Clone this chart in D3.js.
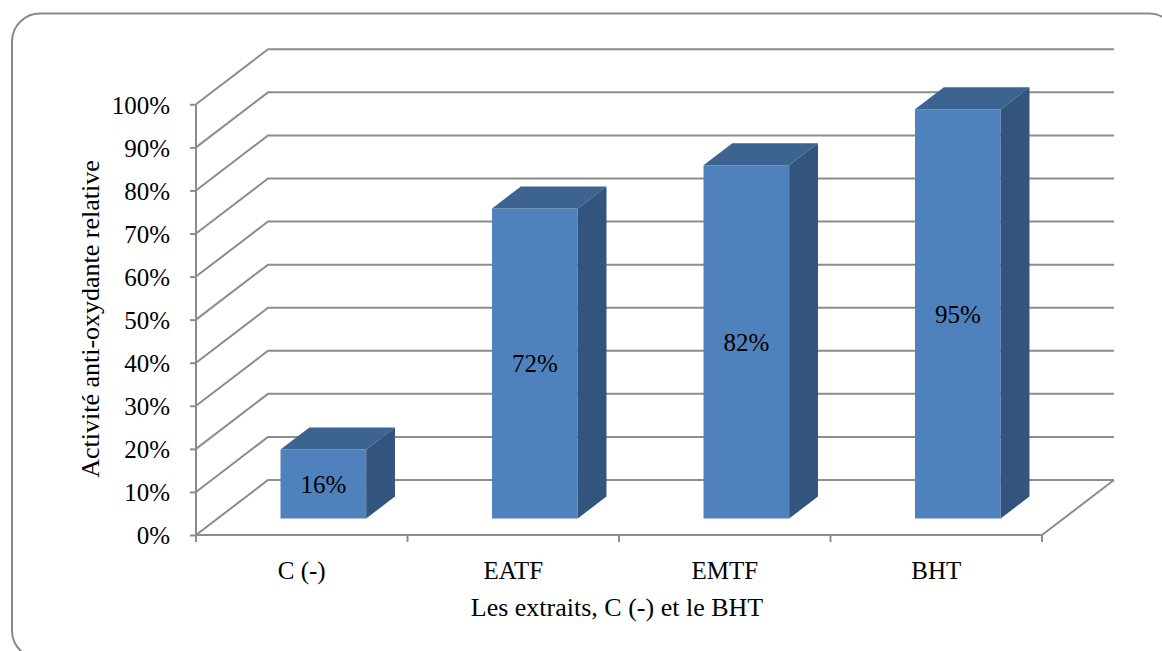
<!DOCTYPE html>
<html>
<head>
<meta charset="utf-8">
<script src="https://cdn.jsdelivr.net/npm/d3@7"></script>
<style>
  html, body { margin: 0; padding: 0; background: #ffffff; }
  svg { display: block; }
  svg text { font-family: "Liberation Serif", "Times New Roman", serif !important; fill: #000; }
</style>
</head>
<body>
<svg id="chart" width="1162" height="651"></svg>
<script>
// Data
const categories = ["C (-)", "EATF", "EMTF", "BHT"];
const values = [0.16, 0.72, 0.82, 0.95];
const tickValues = [0, 0.1, 0.2, 0.3, 0.4, 0.5, 0.6, 0.7, 0.8, 0.9, 1.0];
const yTitle = "Activité anti-oxydante relative";
const xTitle = "Les extraits, C (-) et le BHT";

const svg = d3.select("#chart");
const serif = "'Liberation Serif', 'Times New Roman', serif";

// Oblique depth of the 3D plot box
const depthX = 72, depthY = -55;
// Bars sit between these depth fractions
const barDepth0 = 0.3, barDepth1 = 0.7;

const y = d3.scaleLinear().domain([0, 1]).range([535, 104.3]);
const barPad = 0.595;
const x = d3.scaleBand().domain(categories).range([196, 1042])
  .paddingInner(barPad).paddingOuter(barPad / 2);
const xEdge = d3.scaleLinear().domain([0, categories.length]).range([196, 1042]);

const proj = (px, v, d) => [px + depthX * d, y(v) + depthY * d];
const line = d3.line();

const gridColor = "#8c8c8c";

// Outer chart frame
svg.append("rect")
  .attr("x", 12).attr("y", 13.5)
  .attr("width", 1165).attr("height", 645)
  .attr("rx", 28).attr("ry", 28)
  .attr("fill", "#fff").attr("stroke", "#8a8a8a").attr("stroke-width", 2);

const plot = svg.append("g");

// Gridlines: along the left wall, then across the back wall
plot.selectAll("path.grid").data(tickValues).join("path")
  .attr("class", "grid")
  .attr("d", v => line([proj(xEdge(0), v, 0), proj(xEdge(0), v, 1), proj(xEdge(categories.length), v, 1)]))
  .attr("fill", "none").attr("stroke", gridColor).attr("stroke-width", 2);

// Floor outline (front and right edges)
plot.append("path")
  .attr("d", line([proj(xEdge(0), 0, 0), proj(xEdge(categories.length), 0, 0), proj(xEdge(categories.length), 0, 1)]))
  .attr("fill", "none").attr("stroke", gridColor).attr("stroke-width", 2);

// Vertical value axis
plot.append("path")
  .attr("d", line([proj(xEdge(0), 0, 0), proj(xEdge(0), 1, 0)]))
  .attr("fill", "none").attr("stroke", gridColor).attr("stroke-width", 2);

// Value axis ticks and labels
const yAxis = d3.axisLeft(y).tickValues(tickValues).tickSize(6).tickPadding(0)
  .tickFormat(d3.format(".0%"));
const gy = svg.append("g").attr("transform", `translate(${xEdge(0)},0)`).call(yAxis)
  .attr("font-family", serif).attr("font-size", 25);
gy.select(".domain").remove();
gy.selectAll(".tick line").attr("stroke", gridColor).attr("stroke-width", 2);
gy.selectAll(".tick text")
  .attr("x", -26).attr("dy", "0.35em")
  .style("font-family", serif)
  .style("font-size", "25px").attr("fill", "#000");

// Category axis ticks (at category boundaries) and labels
const edges = d3.range(categories.length + 1);
svg.selectAll("line.xtick").data(edges).join("line")
  .attr("class", "xtick")
  .attr("x1", d => xEdge(d)).attr("x2", d => xEdge(d))
  .attr("y1", y(0)).attr("y2", y(0) + 7)
  .attr("stroke", gridColor).attr("stroke-width", 2);

svg.selectAll("text.xlab").data(categories).join("text")
  .attr("class", "xlab")
  .attr("x", (d, i) => (xEdge(i) + xEdge(i + 1)) / 2)
  .attr("y", 570).attr("dy", "0.35em")
  .attr("text-anchor", "middle")
  .style("font-family", serif)
  .style("font-size", "25px")
  .text(d => d);

// 3D bars
const bars = svg.selectAll("g.bar").data(categories.map((c, i) => ({ c, v: values[i] })))
  .join("g").attr("class", "bar");

const x0 = d => x(d.c), x1 = d => x(d.c) + x.bandwidth();

// Front face
bars.append("path")
  .attr("d", d => line([
    proj(x0(d), 0, barDepth0), proj(x1(d), 0, barDepth0),
    proj(x1(d), d.v, barDepth0), proj(x0(d), d.v, barDepth0)]) + "Z")
  .attr("fill", "#4f81bd");
// Top face
bars.append("path")
  .attr("d", d => line([
    proj(x0(d), d.v, barDepth0), proj(x1(d), d.v, barDepth0),
    proj(x1(d), d.v, barDepth1), proj(x0(d), d.v, barDepth1)]) + "Z")
  .attr("fill", "#3d6491");
// Right side face
bars.append("path")
  .attr("d", d => line([
    proj(x1(d), 0, barDepth0), proj(x1(d), 0, barDepth1),
    proj(x1(d), d.v, barDepth1), proj(x1(d), d.v, barDepth0)]) + "Z")
  .attr("fill", "#33547d");

// Value labels centered on the front face
bars.append("text")
  .attr("x", d => proj((x0(d) + x1(d)) / 2, 0, barDepth0)[0])
  .attr("y", d => (proj(0, 0, barDepth0)[1] + proj(0, d.v, barDepth0)[1]) / 2)
  .attr("dy", "0.35em")
  .attr("text-anchor", "middle")
  .style("font-family", serif)
  .style("font-size", "25px")
  .text(d => d3.format(".0%")(d.v));

// Axis titles
svg.append("text")
  .attr("transform", "translate(90,319) rotate(-90)")
  .attr("text-anchor", "middle").attr("dy", "0.35em")
  .style("font-family", serif)
  .style("font-size", "26px")
  .text(yTitle);

svg.append("text")
  .attr("x", 617).attr("y", 607).attr("dy", "0.35em")
  .attr("text-anchor", "middle")
  .style("font-family", serif)
  .style("font-size", "26px")
  .text(xTitle);
</script>
</body>
</html>
